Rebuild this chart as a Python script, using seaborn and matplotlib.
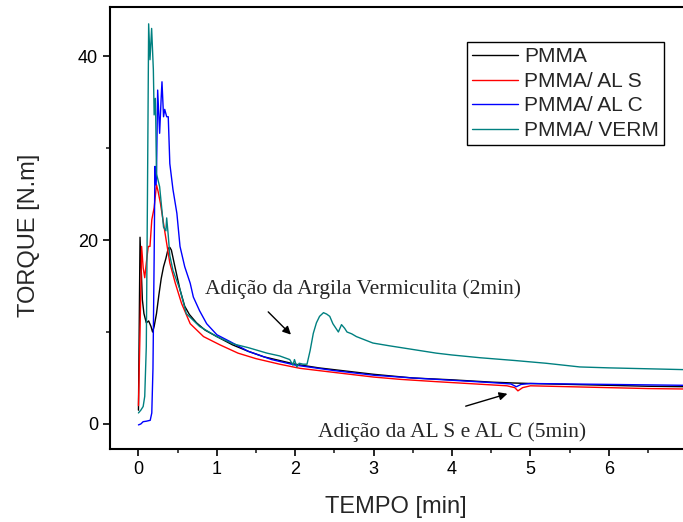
import numpy as np
import pandas as pd
import seaborn as sns
import matplotlib
matplotlib.use("Agg")
import matplotlib.pyplot as plt
from matplotlib.ticker import MultipleLocator

# Torque rheometry curves (time in min, torque in N.m)
t_pmma = [0.0, 0.02, 0.05, 0.07, 0.10, 0.13, 0.16, 0.18, 0.20, 0.23, 0.26, 0.29, 0.32,
          0.35, 0.38, 0.40, 0.42, 0.465, 0.53, 0.59, 0.65, 0.74, 0.85, 1.0, 1.2, 1.4,
          1.6, 1.8, 2.0, 2.3, 2.6, 3.0, 3.5, 4.0, 4.5, 4.8, 5.0, 5.5, 6.0, 6.5, 7.0]
y_pmma = [1.5, 20.3, 13.5, 12.0, 11.0, 11.2, 10.6, 10.0, 10.6, 12.0, 14.0, 15.8, 17.1,
          18.0, 19.1, 19.2, 18.9, 17.1, 14.6, 12.8, 11.9, 11.0, 10.2, 9.5, 8.6, 7.9,
          7.3, 6.9, 6.5, 6.1, 5.8, 5.4, 5.0, 4.8, 4.55, 4.45, 4.4, 4.3, 4.2, 4.1, 4.05]

t_als = [0.0, 0.02, 0.04, 0.06, 0.08, 0.10, 0.125, 0.147, 0.17, 0.20, 0.23, 0.25, 0.28,
         0.30, 0.34, 0.40, 0.47, 0.55, 0.66, 0.83, 1.04, 1.27, 1.5, 1.8, 2.06, 2.5, 3.0,
         3.34, 3.8, 4.3, 4.7, 4.8, 4.84, 4.9, 5.0, 5.5, 6.0, 6.5, 7.0]
y_als = [2.0, 10.0, 19.3, 17.0, 15.9, 17.5, 19.3, 19.3, 22.2, 23.5, 26.0, 25.3, 24.0,
         22.9, 20.7, 17.5, 15.3, 13.1, 10.9, 9.5, 8.6, 7.7, 7.1, 6.5, 6.05, 5.6, 5.1,
         4.85, 4.6, 4.35, 4.15, 3.95, 3.6, 3.95, 4.15, 4.05, 3.95, 3.85, 3.8]

t_alc = [0.0, 0.03, 0.06, 0.10, 0.15, 0.17, 0.185, 0.20, 0.21, 0.22, 0.23, 0.245, 0.27,
         0.29, 0.30, 0.32, 0.335, 0.36, 0.38, 0.40, 0.44, 0.49, 0.53, 0.59, 0.66, 0.70,
         0.78, 0.87, 1.0, 1.17, 1.4, 1.7, 2.0, 2.5, 3.0, 3.5, 4.0, 4.5, 4.75, 4.82, 4.88,
         5.0, 5.5, 6.0, 6.5, 7.0]
y_alc = [-0.1, 0.0, 0.25, 0.3, 0.4, 1.2, 6.0, 18.0, 28.0, 26.0, 27.2, 36.3, 31.6,
         35.5, 37.2, 33.4, 34.2, 33.4, 33.4, 28.3, 25.5, 22.9, 19.3, 17.1, 15.3, 13.8,
         12.3, 10.9, 9.7, 8.95, 7.9, 7.0, 6.4, 5.8, 5.3, 5.0, 4.75, 4.5, 4.35, 4.05, 4.3,
         4.4, 4.35, 4.3, 4.25, 4.2]

t_verm = [0.0, 0.03, 0.06, 0.08, 0.10, 0.115, 0.13, 0.147, 0.168, 0.19, 0.20, 0.215,
          0.22, 0.23, 0.27, 0.32, 0.35, 0.36, 0.38, 0.40, 0.44, 0.53, 0.61, 0.78, 1.0,
          1.21, 1.4, 1.64, 1.8, 1.93, 1.97, 1.99, 2.02, 2.05, 2.10, 2.15, 2.19, 2.23,
          2.27, 2.31, 2.36, 2.40, 2.44, 2.48, 2.55, 2.59, 2.63, 2.66, 2.72, 2.78, 2.9,
          2.99, 3.2, 3.5, 3.8, 4.0, 4.36, 4.8, 5.2, 5.63, 6.0, 6.5, 7.0]
y_verm = [1.2, 1.5, 1.9, 3.0, 8.4, 25.0, 43.5, 39.6, 43.0, 38.5, 33.6, 35.4,
          33.4, 27.2, 25.8, 21.4, 21.0, 22.4, 20.5, 18.3, 16.7, 14.6, 12.0, 10.6, 9.5,
          8.7, 8.3, 7.7, 7.4, 7.0, 6.4, 7.0, 6.2, 6.6, 6.5, 6.5, 8.0, 9.85,
          11.0, 11.7, 12.1, 11.95, 11.7, 10.9, 10.0, 10.8, 10.4, 10.0, 9.8, 9.5, 9.1,
          8.8, 8.5, 8.1, 7.7, 7.5, 7.2, 6.9, 6.6, 6.2, 6.1, 6.0, 5.9]

labels = ["PMMA", "PMMA/ AL S", "PMMA/ AL C", "PMMA/ VERM"]
colors = ["#000000", "#ff0000", "#0000ff", "#008080"]

frames = []
for name, t, y in zip(labels, [t_pmma, t_als, t_alc, t_verm],
                      [y_pmma, y_als, y_alc, y_verm]):
    frames.append(pd.DataFrame({"tempo": t, "torque": y, "amostra": name}))
df = pd.concat(frames, ignore_index=True)

sns.set_style("ticks")
plt.rcParams["font.family"] = ["Liberation Sans", "DejaVu Sans"]

W, H = 683, 522
fig = plt.figure(figsize=(W / 100, H / 100), dpi=100)
# axes box in pixels: left 110, top 7, bottom 449; right side runs past the figure edge
x_lo, x_hi = -0.363, 7.2
px_per_min = 78.4
ax_w = (x_hi - x_lo) * px_per_min
ax = fig.add_axes([110 / W, (H - 449) / H, ax_w / W, 442 / H])

sns.lineplot(data=df, x="tempo", y="torque", hue="amostra", hue_order=labels,
             palette=colors, sort=False, estimator=None, units="amostra",
             linewidth=1.0, ax=ax, legend=False)

ax.set_xlim(x_lo, x_hi)
ax.set_ylim(-2.72, 45.33)
ax.xaxis.set_major_locator(MultipleLocator(1))
ax.xaxis.set_minor_locator(MultipleLocator(0.5))
ax.yaxis.set_major_locator(MultipleLocator(20))
ax.yaxis.set_minor_locator(MultipleLocator(10))
ax.tick_params(which="major", direction="out", length=5, width=1.2, labelsize=13,
               colors="black")
ax.tick_params(which="minor", direction="out", length=3, width=1.2)
for s in ax.spines.values():
    s.set_visible(True)
    s.set_linewidth(1.5)
    s.set_color("black")

ax.set_xlabel("TEMPO [min]", fontsize=17)
ax.set_ylabel("TORQUE [N.m]", fontsize=17)
ax.xaxis.set_label_coords((396 - 110) / ax_w, -(496 - 449) / 442)
ax.yaxis.set_label_coords(-(110 - 40) / ax_w, (449 - 235) / 442)

handles = [plt.Line2D([], [], color=c, lw=1.0) for c in colors]
leg = ax.legend(handles, labels, loc="upper left",
                bbox_to_anchor=((467 - 110) / ax_w, 1 - (42 - 7) / 442),
                borderaxespad=0, fancybox=False, framealpha=1, edgecolor="black",
                fontsize=15, handlelength=2.2, handletextpad=0.3, labelspacing=0.27,
                borderpad=0.25)
leg.get_frame().set_linewidth(1.0)

serif = ["Liberation Serif", "DejaVu Serif"]
arrow = dict(arrowstyle="-|>", color="black", lw=1.0, mutation_scale=12)
ax.annotate("", xy=(1.97, 9.5), xytext=(1.63, 12.4), arrowprops=arrow)
ax.text(0.85, 14.7, "Adição da Argila Vermiculita (2min)", fontsize=15.5,
        family=serif, ha="left", va="center")
ax.annotate("", xy=(4.74, 3.37), xytext=(4.14, 1.85), arrowprops=arrow)
ax.text(2.29, -0.87, "Adição da AL S e AL C (5min)", fontsize=15.5, family=serif,
        ha="left", va="center")

fig.savefig("out.png", dpi=100)
